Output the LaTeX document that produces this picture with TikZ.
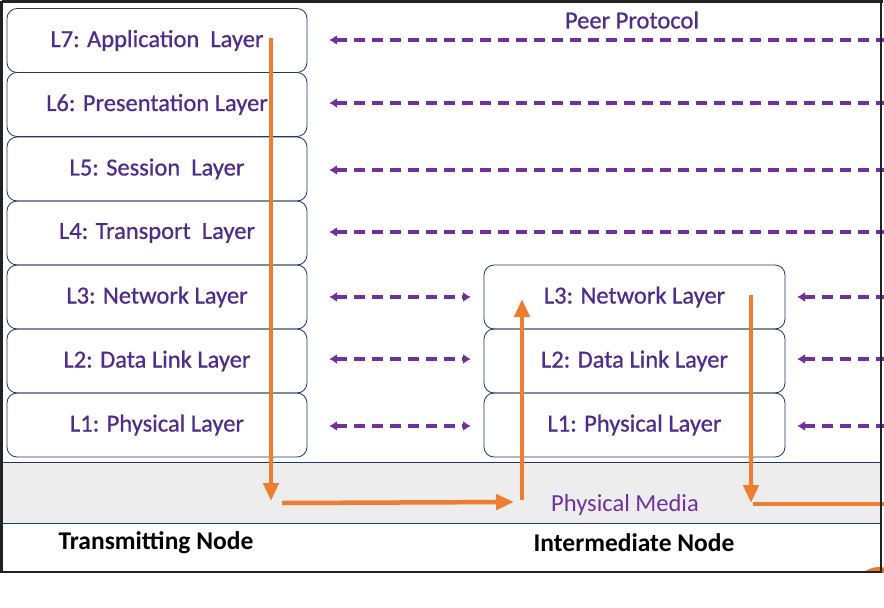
\documentclass[tikz,border=0pt]{standalone}
\usepackage{fontspec}
\setmainfont{Carlito}
\newfontfamily\lblfont{Carlito}[FakeBold=0.7]
\usetikzlibrary{arrows.meta}
\definecolor{navy}{HTML}{1F3864}
\definecolor{lbl}{HTML}{4F2C8C}
\definecolor{purp}{HTML}{7030A0}
\definecolor{orng}{HTML}{ED7D31}
\definecolor{media}{HTML}{EDEDED}
\definecolor{frame}{HTML}{222222}
\tikzset{
  layer/.style={draw=navy, line width=0.8pt, rounded corners=10pt, minimum height=64pt,
    text=lbl, font=\lblfont\fontsize{24.5}{28}\selectfont, inner sep=0pt},
  leftlayer/.style={layer, minimum width=300pt},
  midlayer/.style={layer, minimum width=301pt},
  peer/.style={draw=purp, line width=3.5pt, dash pattern=on 11pt off 7pt},
  peerl/.style={peer, {Latex[length=8pt,width=10pt]}-},
  peerlr/.style={peer, {Latex[length=8pt,width=10pt]}-{Latex[length=8pt,width=10pt]}},
  flow/.style={draw=orng, line width=4.5pt},
  flowa/.style={flow, -{Triangle[length=18pt,width=15pt]}},
  caption/.style={font=\fontsize{25.5}{30}\selectfont\bfseries, text=black},
  peerstyle/.style={font=\lblfont\fontsize{24.5}{28}\selectfont, text=lbl},
  mediastyle/.style={font=\fontsize{24.5}{28}\selectfont, text=purp}
}
\begin{document}
\begin{tikzpicture}[x=1pt,y=-1pt]
\useasboundingbox (0,0) rectangle (884,608);
\fill[white] (0,0) rectangle (884,608);
% physical media band
\fill[media] (3,462) rectangle (881,523);
\draw[navy, line width=0.8pt] (3,462) -- (881,462);
\draw[navy, line width=0.8pt] (3,523) -- (881,523);
% left stack
\node[leftlayer] (t7) at (157,40.5) {L7: Application\ \ Layer};
\node[leftlayer] (t6) at (157,104.5) {L6: Presentation Layer};
\node[leftlayer] (t5) at (157,169) {L5: Session\ \ Layer};
\node[leftlayer] (t4) at (157,233) {L4: Transport\ \ Layer};
\node[leftlayer] (t3) at (157,297) {L3: Network Layer};
\node[leftlayer] (t2) at (157,361) {L2: Data Link Layer};
\node[leftlayer] (t1) at (157,425) {L1: Physical Layer};
% middle stack
\node[midlayer] (m3) at (634.5,297) {L3: Network Layer};
\node[midlayer] (m2) at (634.5,361) {L2: Data Link Layer};
\node[midlayer] (m1) at (634.5,425) {L1: Physical Layer};
% texts
\node[peerstyle] (peertxt) at (632,20) {Peer Protocol};
\node[mediastyle] (media) at (625,505) {Physical Media};
\node[caption] (tn) at (156,542.5) {Transmitting Node};
\node[caption] (in) at (634,542.5) {Intermediate Node};
% peer protocol coordinates
\foreach \n/\y in {7/40,6/103,5/170,4/232}{
  \coordinate (pl\n) at (329,\y);
  \coordinate (pr\n) at (884,\y);
  \draw[peerl] (pl\n) -- (pr\n);
}
\foreach \n/\y in {3/297,2/359,1/426}{
  \coordinate (ql\n) at (329,\y);
  \coordinate (qr\n) at (471,\y);
  \draw[peerlr] (ql\n) -- (qr\n);
  \coordinate (sl\n) at (797,\y);
  \coordinate (sr\n) at (884,\y);
  \draw[peerl] (sl\n) -- (sr\n);
}
% orange flow
\coordinate (a0) at (271,38);
\coordinate (a1) at (271,501);
\coordinate (b0) at (282,503);
\coordinate (b1) at (514,502);
\coordinate (c0) at (522,500);
\coordinate (c1) at (522,299);
\coordinate (d0) at (751,295);
\coordinate (d1) at (751,503);
\coordinate (e0) at (753,504);
\coordinate (e1) at (884,504);
\draw[flowa] (a0) -- (a1);
\draw[flowa] (b0) -- (b1);
\draw[flowa] (c0) -- (c1);
\draw[flowa] (d0) -- (d1);
\draw[flow] (e0) -- (e1);
% corner blob
\begin{scope}
\clip (848,560) rectangle (884,572);
\fill[orng!95!red] (879,591) circle (24);
\end{scope}
% frame
\draw[frame, line width=3pt] (1.5,1) -- (882.5,1);
\draw[frame, line width=3pt] (1.5,1) -- (1.5,572.5);
\draw[frame, line width=2pt] (881,1) -- (881,572.5);
\draw[frame, line width=2.5pt] (1.5,572) -- (882,572);
\end{tikzpicture}
\end{document}
